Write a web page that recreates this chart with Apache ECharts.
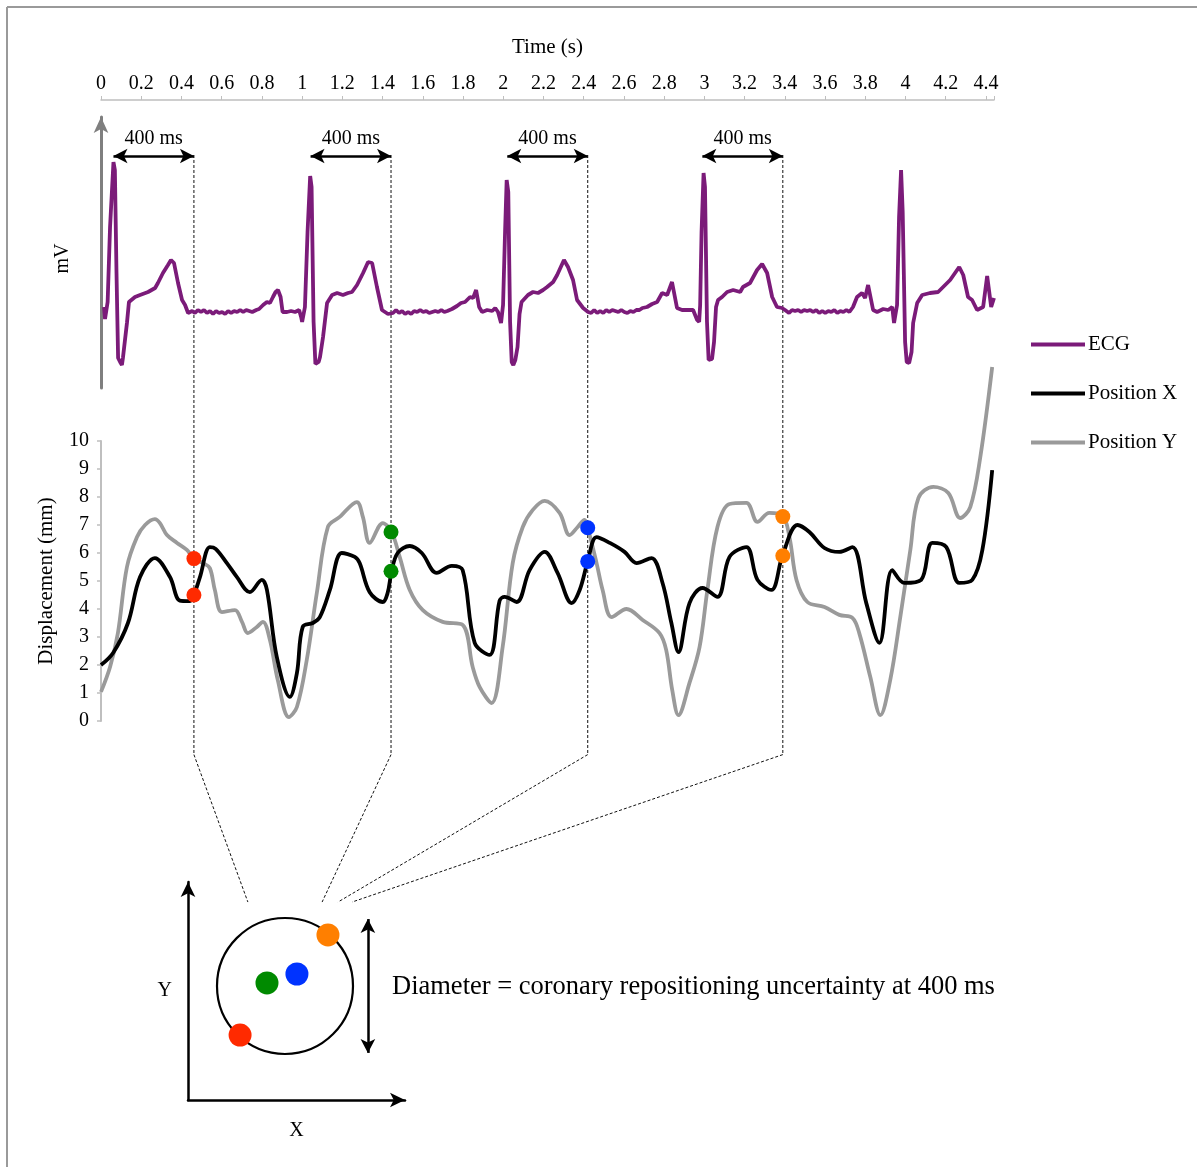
<!DOCTYPE html>
<html><head><meta charset="utf-8">
<script src="https://cdn.jsdelivr.net/npm/echarts@6/dist/echarts.min.js"></script>
<style>html,body{margin:0;padding:0;background:#fff}#c{width:1197px;height:1167px}</style>
</head><body><div id="c"></div>
<script>
// ---------- data ----------
const timeMin = 0, timeMax = 4.44, timeTickStep = 0.2;
const dispMin = 0, dispMax = 10, dispTickStep = 1;

const ecgBeat1 = [[0.015,0.05],[0.020,-0.07],[0.025,-0.08],[0.033,0.10],[0.045,0.85],[0.062,1.50],[0.069,1.42],[0.077,0.40],[0.085,-0.46],[0.095,-0.50],[0.104,-0.53],[0.109,-0.46],[0.129,-0.11],[0.139,0.10],[0.169,0.15],[0.194,0.17],[0.234,0.20],[0.269,0.24],[0.283,0.29],[0.308,0.39],[0.333,0.47],[0.348,0.52],[0.363,0.49],[0.383,0.29],[0.403,0.12],[0.418,0.07],[0.433,-0.01],[0.453,0.01],[0.467,-0.01],[0.482,0.02],[0.497,0.0],[0.512,0.02],[0.527,-0.01],[0.542,0.01],[0.557,-0.02],[0.572,0.01],[0.587,-0.01],[0.602,0.0],[0.617,-0.02],[0.632,0.01],[0.647,-0.01],[0.662,0.01],[0.677,0.0],[0.692,0.02],[0.707,0.0],[0.722,0.02],[0.737,0.01],[0.752,0.0],[0.772,0.02],[0.786,0.03],[0.806,0.07],[0.825,0.10],[0.840,0.09],[0.855,0.15],[0.868,0.20],[0.880,0.22],[0.893,0.15],[0.903,0.0],[0.925,0.0],[0.945,0.01],[0.965,0.0],[0.985,0.02],[0.995,-0.05],[1.000,-0.10]];
const ecgBeat2 = [[1.014,0.05],[1.027,0.80],[1.040,1.36],[1.047,1.25],[1.057,-0.10],[1.066,-0.52],[1.074,-0.53],[1.082,-0.50],[1.089,-0.45],[1.104,-0.25],[1.124,0.09],[1.149,0.17],[1.174,0.19],[1.203,0.17],[1.228,0.19],[1.248,0.20],[1.273,0.27],[1.303,0.39],[1.328,0.50],[1.348,0.49],[1.372,0.25],[1.397,0.02],[1.427,-0.02],[1.452,-0.01],[1.467,0.02],[1.482,-0.01],[1.497,0.01],[1.512,-0.02],[1.527,0.0],[1.542,-0.02],[1.557,0.01],[1.572,0.0],[1.587,0.02],[1.602,0.0],[1.617,0.01],[1.632,-0.01],[1.647,0.0],[1.662,0.01],[1.677,0.0],[1.692,0.02],[1.707,0.0],[1.722,0.01],[1.745,0.03],[1.770,0.06],[1.790,0.09],[1.810,0.10],[1.835,0.15],[1.850,0.14],[1.865,0.22],[1.880,0.05],[1.895,0.0],[1.920,0.02],[1.945,0.01],[1.960,0.04],[1.974,0.0],[1.989,-0.11]];
const ecgBeat3 = [[1.999,0.07],[2.009,0.80],[2.017,1.32],[2.025,1.20],[2.034,-0.10],[2.042,-0.50],[2.050,-0.53],[2.060,-0.48],[2.071,-0.35],[2.081,-0.02],[2.091,0.10],[2.098,0.12],[2.123,0.17],[2.148,0.20],[2.173,0.19],[2.198,0.22],[2.218,0.25],[2.248,0.30],[2.268,0.37],[2.302,0.52],[2.322,0.45],[2.347,0.32],[2.367,0.12],[2.397,0.04],[2.422,0.0],[2.437,-0.01],[2.452,0.02],[2.467,-0.01],[2.482,0.01],[2.497,-0.01],[2.512,0.02],[2.527,0.0],[2.542,0.02],[2.557,0.01],[2.572,0.0],[2.587,0.02],[2.602,0.0],[2.617,-0.01],[2.632,0.01],[2.647,0.0],[2.662,0.02],[2.677,0.02],[2.692,0.04],[2.715,0.05],[2.740,0.08],[2.765,0.10],[2.790,0.19],[2.815,0.17],[2.839,0.30],[2.864,0.04],[2.889,0.02],[2.914,0.02],[2.944,0.02],[2.964,-0.08],[2.974,-0.10]];
const ecgBeat4 = [[2.979,0.07],[2.986,0.80],[2.996,1.39],[3.003,1.25],[3.013,-0.10],[3.021,-0.48],[3.028,-0.50],[3.038,-0.47],[3.048,-0.30],[3.058,0.05],[3.068,0.12],[3.088,0.15],[3.113,0.20],[3.143,0.22],[3.178,0.20],[3.192,0.25],[3.227,0.29],[3.262,0.42],[3.287,0.48],[3.312,0.39],[3.337,0.15],[3.361,0.05],[3.386,0.04],[3.401,0.02],[3.421,-0.01],[3.436,0.02],[3.451,0.01],[3.466,0.02],[3.481,0.0],[3.496,0.02],[3.511,0.01],[3.526,0.02],[3.541,0.0],[3.556,0.02],[3.571,-0.01],[3.586,0.01],[3.601,-0.01],[3.616,0.01],[3.631,0.0],[3.646,0.02],[3.661,-0.01],[3.676,0.01],[3.691,0.0],[3.706,0.02],[3.721,0.0],[3.739,0.05],[3.759,0.15],[3.784,0.19],[3.799,0.14],[3.814,0.27],[3.839,0.02],[3.859,0.0],[3.889,0.03],[3.914,0.02],[3.934,0.05],[3.943,-0.11]];
const ecgBeat5 = [[3.958,0.07],[3.968,0.95],[3.978,1.42],[3.986,1.00],[3.998,-0.30],[4.006,-0.50],[4.018,-0.51],[4.030,-0.40],[4.038,-0.11],[4.058,0.09],[4.083,0.17],[4.122,0.19],[4.162,0.20],[4.187,0.25],[4.222,0.32],[4.267,0.45],[4.287,0.37],[4.311,0.15],[4.331,0.12],[4.356,0.02],[4.386,0.05],[4.406,0.36],[4.426,0.05],[4.44,0.14]];

const positionX = [[0,2.0],[0.06,2.43],[0.134,3.5],[0.194,5.14],[0.268,5.82],[0.343,5.14],[0.392,4.3],[0.442,4.28],[0.462,4.5],[0.492,5.14],[0.541,6.21],[0.57,6.15],[0.626,5.64],[0.676,5.14],[0.74,4.6],[0.80,5.04],[0.825,4.68],[0.874,2.29],[0.939,0.86],[0.974,1.71],[1.003,3.36],[1.053,3.5],[1.088,3.71],[1.138,4.68],[1.197,6.0],[1.262,5.86],[1.286,5.64],[1.336,4.6],[1.401,4.25],[1.425,4.57],[1.445,5.35],[1.475,6.0],[1.535,6.25],[1.595,6.0],[1.669,5.29],[1.744,5.54],[1.798,5.39],[1.858,2.79],[1.932,2.36],[1.982,4.3],[2.007,4.43],[2.067,4.25],[2.131,5.39],[2.206,6.04],[2.27,5.29],[2.34,4.21],[2.38,4.68],[2.42,5.7],[2.464,6.57],[2.53,6.36],[2.603,6.04],[2.663,5.64],[2.737,5.82],[2.792,4.93],[2.836,3.5],[2.871,2.46],[2.926,4.21],[2.991,4.75],[3.065,4.43],[3.125,5.86],[3.209,6.21],[3.264,5.04],[3.333,4.68],[3.388,5.9],[3.463,7.0],[3.522,6.75],[3.597,6.18],[3.671,6.04],[3.736,6.21],[3.805,4.21],[3.87,2.79],[3.934,5.39],[3.994,4.93],[4.078,5.04],[4.133,6.36],[4.203,6.21],[4.267,4.93],[4.332,5.04],[4.382,6.1],[4.431,8.96]];
const positionY = [[0,1.04],[0.045,1.93],[0.084,3.14],[0.129,5.5],[0.179,6.57],[0.219,7.0],[0.268,7.21],[0.293,7.07],[0.328,6.64],[0.378,6.36],[0.427,6.11],[0.462,5.8],[0.507,5.64],[0.541,5.46],[0.566,4.68],[0.601,3.89],[0.666,3.96],[0.701,3.54],[0.73,3.14],[0.775,3.36],[0.805,3.54],[0.84,2.89],[0.879,1.46],[0.934,0.14],[0.974,0.5],[1.023,2.18],[1.073,4.57],[1.128,6.93],[1.187,7.29],[1.272,7.82],[1.302,7.29],[1.336,6.36],[1.401,7.07],[1.445,6.75],[1.485,5.86],[1.535,4.68],[1.6,3.96],[1.699,3.54],[1.798,3.43],[1.848,1.93],[1.883,1.21],[1.942,0.64],[1.997,2.64],[2.047,5.64],[2.097,6.93],[2.147,7.54],[2.206,7.86],[2.28,7.43],[2.33,6.64],[2.37,6.93],[2.404,7.18],[2.42,6.9],[2.464,5.64],[2.494,4.68],[2.539,3.71],[2.613,4.0],[2.693,3.61],[2.777,3.14],[2.81,2.54],[2.84,1.11],[2.871,0.21],[2.926,1.36],[2.976,2.64],[3.015,4.68],[3.065,6.93],[3.125,7.75],[3.209,7.79],[3.264,7.11],[3.323,7.43],[3.388,7.35],[3.423,6.57],[3.458,5.04],[3.512,4.25],[3.597,4.07],[3.671,3.79],[3.736,3.68],[3.77,3.14],[3.825,1.57],[3.875,0.21],[3.924,1.46],[3.974,3.71],[4.024,6.11],[4.064,7.96],[4.138,8.36],[4.213,8.14],[4.272,7.25],[4.322,7.64],[4.372,9.43],[4.431,12.64]];

// time points 400 ms after each R peak
const rPeakTimes = [0.062, 1.042, 2.02, 2.99];
const sampleTimes = [0.462, 1.442, 2.42, 3.39];
const sampleX = [4.5, 5.35, 5.7, 5.9];
const sampleY = [5.8, 6.75, 6.9, 7.3];
const sampleColors = ['#FF2A00', '#008A00', '#0033FF', '#FF7F00'];

// schematic X/Y plot (arbitrary units 0-10)
const diagramX = [2.40, 3.64, 5.02, 6.45];
const diagramY = [2.98, 5.37, 5.78, 7.57];
const diagramColors = ['#FF2A00', '#008A00', '#0033FF', '#FF7F00'];
const circleCenter = [4.47, 5.23];
const diameterArrow = [[8.29, 8.3], [8.29, 2.16]];
const connectorEnds = [[2.76, 9.08], [6.18, 9.08], [6.91, 9.08], [7.56, 9.08]];

const legendNames = ['ECG', 'Position X', 'Position Y'];
const annotationText = '400 ms';
const diameterText = 'Diameter = coronary repositioning uncertainty at 400 ms';

// ---------- chart ----------
const FONT = "'Liberation Serif','Times New Roman',serif";
const ecgColor = '#7B1B79';
const chart = echarts.init(document.getElementById('c'), null, {renderer: 'canvas'});
const ecgData = [].concat(ecgBeat1, ecgBeat2, ecgBeat3, ecgBeat4, ecgBeat5);
const arrowMv = 1.56;

const option = {
  animation: false,
  backgroundColor: '#fff',
  textStyle: {fontFamily: FONT},
  grid: [
    {left: 101, top: 117, width: 893, height: 271},
    {left: 101, top: 441, width: 893, height: 280},
    {left: 188, top: 882, width: 217, height: 218}
  ],
  legend: {
    data: legendNames, orient: 'vertical', left: 1026, top: 329,
    icon: 'rect', itemWidth: 54, itemHeight: 4, itemGap: 28,
    textStyle: {fontFamily: FONT, fontSize: 21, color: '#000', padding: [0,0,0,-2]},
    selectedMode: false
  },
  xAxis: [
    {type: 'value', gridIndex: 0, position: 'top', offset: 17, min: timeMin, max: timeMax, interval: timeTickStep,
     name: 'Time (s)', nameLocation: 'middle', nameGap: 42,
     nameTextStyle: {fontFamily: FONT, fontSize: 21, color: '#000'},
     axisLine: {show: true, onZero: false, lineStyle: {color: '#BFBFBF', width: 1.5}},
     axisTick: {show: true, length: 4, lineStyle: {color: '#BFBFBF'}},
     axisLabel: {fontFamily: FONT, fontSize: 20, color: '#000', margin: 6,
       formatter: v => { const k = v / timeTickStep; return Math.abs(k - Math.round(k)) < 1e-6 ? String(+v.toFixed(1)) : ''; }},
     splitLine: {show: false}},
    {type: 'value', gridIndex: 1, min: timeMin, max: timeMax, show: false},
    {type: 'value', gridIndex: 2, min: 0, max: 10,
     name: 'X', nameLocation: 'middle', nameGap: 21,
     nameTextStyle: {fontFamily: FONT, fontSize: 20, color: '#000'},
     axisLine: {show: true, onZero: false, symbol: ['none', 'arrow'], symbolSize: [11, 15], lineStyle: {color: '#000', width: 2.5}},
     axisTick: {show: false}, axisLabel: {show: false}, splitLine: {show: false}}
  ],
  yAxis: [
    {type: 'value', gridIndex: 0, min: -0.76, max: 1.95,
     name: 'mV', nameLocation: 'middle', nameGap: 28, nameRotate: 90,
     nameTextStyle: {fontFamily: FONT, fontSize: 20, color: '#000', padding: [0, 12, 0, 0]},
     axisLine: {show: true, onZero: false, symbol: ['none', 'arrow'], symbolSize: [11, 16], lineStyle: {color: '#7F7F7F', width: 3}},
     axisTick: {show: false}, axisLabel: {show: false}, splitLine: {show: false}},
    {type: 'value', gridIndex: 1, min: dispMin, max: dispMax, interval: dispTickStep,
     name: 'Displacement (mm)', nameLocation: 'middle', nameGap: 44, nameRotate: 90,
     nameTextStyle: {fontFamily: FONT, fontSize: 21, color: '#000'},
     axisLine: {show: true, onZero: false, lineStyle: {color: '#BFBFBF', width: 2}},
     axisTick: {show: true, length: 4, lineStyle: {color: '#BFBFBF', width: 1.5}},
     axisLabel: {fontFamily: FONT, fontSize: 20, color: '#000', margin: 12},
     splitLine: {show: false}},
    {type: 'value', gridIndex: 2, min: 0, max: 10,
     name: 'Y', nameLocation: 'middle', nameGap: 16, nameRotate: 0,
     nameTextStyle: {fontFamily: FONT, fontSize: 20, color: '#000'},
     axisLine: {show: true, onZero: false, symbol: ['none', 'arrow'], symbolSize: [11, 15], lineStyle: {color: '#000', width: 2.5}},
     axisTick: {show: false}, axisLabel: {show: false}, splitLine: {show: false}}
  ],
  series: [
    {name: 'ECG', type: 'line', xAxisIndex: 0, yAxisIndex: 0, data: ecgData,
     symbol: 'none', showSymbol: false, clip: false,
     lineStyle: {color: ecgColor, width: 3.8}, itemStyle: {color: ecgColor},
     markLine: {silent: true, symbol: ['arrow', 'arrow'], symbolSize: [11, 14],
       lineStyle: {color: '#000', width: 2.5, type: 'solid'},
       label: {show: true, position: 'middle', formatter: annotationText, fontFamily: FONT, fontSize: 20, color: '#000', distance: 7},
       emphasis: {disabled: true},
       data: rPeakTimes.map((t, i) => [{coord: [t, arrowMv]}, {coord: [sampleTimes[i], arrowMv]}])}},
    {name: 'Position X', type: 'line', xAxisIndex: 1, yAxisIndex: 1, data: positionX,
     smooth: 0.35, symbol: 'none', showSymbol: false, clip: false,
     lineStyle: {color: '#000', width: 3.8}, itemStyle: {color: '#000'}, z: 3},
    {name: 'Position Y', type: 'line', xAxisIndex: 1, yAxisIndex: 1, data: positionY,
     smooth: 0.35, symbol: 'none', showSymbol: false, clip: false,
     lineStyle: {color: '#9A9A9A', width: 3.8}, itemStyle: {color: '#9A9A9A'}, z: 2},
    {name: 'samples', type: 'scatter', xAxisIndex: 1, yAxisIndex: 1, symbolSize: 15, clip: false, z: 5,
     data: sampleTimes.flatMap((t, i) => [
       {value: [t, sampleY[i]], itemStyle: {color: sampleColors[i], opacity: 1}},
       {value: [t, sampleX[i]], itemStyle: {color: sampleColors[i], opacity: 1}}
     ])},
    {name: 'circle', type: 'scatter', xAxisIndex: 2, yAxisIndex: 2, symbolSize: 136, z: 3,
     data: [circleCenter],
     itemStyle: {color: 'rgba(0,0,0,0)', borderColor: '#000', borderWidth: 2.2, opacity: 1},
     markLine: {silent: true, symbol: ['arrow', 'arrow'], symbolSize: [11, 14],
       lineStyle: {color: '#000', width: 2.5, type: 'solid'}, label: {show: false},
       emphasis: {disabled: true},
       data: [[{coord: diameterArrow[0]}, {coord: diameterArrow[1]}]]}},
    {name: 'diagramDots', type: 'scatter', xAxisIndex: 2, yAxisIndex: 2, symbolSize: 23, z: 5,
     data: diagramX.map((x, i) => ({value: [x, diagramY[i]], itemStyle: {color: diagramColors[i], opacity: 1}}))}
  ]
};
chart.setOption(option);

// decorations positioned through the chart's own scales
const g = [];
g.push({type: 'line', shape: {x1: 7, y1: 7, x2: 1197, y2: 7}, style: {stroke: '#9A9A9A', lineWidth: 2}, z: 1});
g.push({type: 'line', shape: {x1: 7, y1: 7, x2: 7, y2: 1167}, style: {stroke: '#9A9A9A', lineWidth: 2}, z: 1});
sampleTimes.forEach((t, i) => {
  const p1 = chart.convertToPixel({gridIndex: 0}, [t, 1.57]);
  const p2 = chart.convertToPixel({gridIndex: 1}, [t, -1.2]);
  const p3 = chart.convertToPixel({gridIndex: 2}, connectorEnds[i]);
  g.push({type: 'line', shape: {x1: p1[0], y1: p1[1], x2: p2[0], y2: p2[1]}, style: {stroke: '#111', lineWidth: 1, lineDash: [3, 2]}, z: 0});
  g.push({type: 'line', shape: {x1: p2[0], y1: p2[1], x2: p3[0], y2: p3[1]}, style: {stroke: '#111', lineWidth: 1, lineDash: [3, 2]}, z: 0});
});
g.push({type: 'text', x: 392, y: 987, style: {text: diameterText, fontFamily: FONT, fontSize: 26.5, fill: '#000', verticalAlign: 'middle', align: 'left'}});
chart.setOption({graphic: g});
</script></body></html>
